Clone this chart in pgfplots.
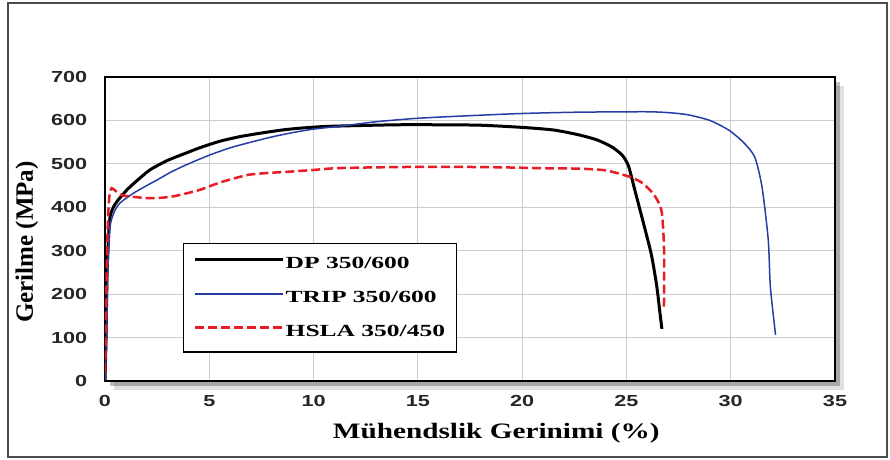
\documentclass[border=0pt]{standalone}
\usepackage{fontspec}
\setmainfont{Liberation Serif}
\newfontfamily\ticksans{Liberation Sans}
\usepackage{pgfplots}
\pgfplotsset{compat=1.18}
\usetikzlibrary{shadows}
\definecolor{tripblue}{RGB}{40,60,165}
\definecolor{hslared}{RGB}{232,28,36}
\definecolor{gridgray}{RGB}{205,205,205}

\begin{document}
\begin{tikzpicture}[x=1pt,y=1pt]
\useasboundingbox (0,0) rectangle (890,459);
\draw[line width=1.5pt, black!70] (8,2) rectangle (887,456);
\begin{axis}[
  at={(105pt,78pt)}, anchor=south west,
  scale only axis, width=730pt, height=304pt,
  xmin=0, xmax=35, ymin=0, ymax=700,
  xtick={0,5,...,35}, ytick={0,100,...,700},
  major tick length=0pt,
  grid=major,
  major grid style={gridgray, line width=1pt},
  axis line style={line width=2.5pt, black},
  axis background/.style={fill=white,
    drop shadow={shadow xshift=9pt, shadow yshift=-9pt, fill=black, opacity=0.12},
    drop shadow={shadow xshift=5pt, shadow yshift=-5pt, fill=black, opacity=0.25}},
  tick label style={font=\ticksans\bfseries\fontsize{16}{16}\selectfont, text=black!85, xscale=1.35, inner sep=0pt},
  /pgf/number format/assume math mode=true,
  xticklabel style={anchor=north, yshift=-14pt},
  yticklabel style={anchor=east, xshift=-13pt},
  xlabel={\scalebox{1.33}[1]{Mühendslik Gerinimi (\%)}},
  ylabel={Gerilme (MPa)},
  xlabel style={at={(axis description cs:0.536,-0.171)}, anchor=center, font=\bfseries\fontsize{22}{22}\selectfont},
  ylabel style={at={(axis description cs:-0.107,0.457)}, anchor=center, font=\bfseries\fontsize{25}{25}\selectfont},
  legend style={at={(axis description cs:0.107,0.454)}, anchor=north west,
    draw=black, line width=1.2pt, fill=white,
    font=\bfseries\fontsize{17}{17}\selectfont,
    inner xsep=10pt, inner ysep=13pt, row sep=19pt,
    nodes={inner sep=1pt}},
  legend image code/.code={\draw[#1] (0pt,4pt) -- (88pt,4pt);},
  legend cell align=left,
]
\addplot[black, line width=3pt, smooth, tension=0.4] coordinates {
(0,0) (0.05,100) (0.1,250) (0.18,340) (0.25,380) (0.4,400) (0.6,415) (1.05,440)
(1.5,460) (2.15,486) (3,508) (4,527) (4.54,537) (5.5,552) (6.5,563) (7.5,571)
(8.5,578) (9.3,582) (10.5,586) (12,588) (14,590) (16,590) (18,589) (20,584)
(21.5,578) (22.7,567) (23.6,555) (24.3,539) (24.8,520) (25.1,495) (25.4,440)
(25.9,348) (26.2,290) (26.45,220) (26.6,160) (26.7,120)};
\addplot[tripblue, line width=1.5pt, smooth, tension=0.4] coordinates {
(0,0) (0.08,100) (0.13,250) (0.24,355) (0.45,390) (0.72,410) (1.35,432) (2,450)
(2.5,463) (3.2,482) (4,500) (5,520) (6,537) (7,550) (8,562) (9,572) (10,580)
(11.5,588) (13,597) (15,605) (17.5,611) (20,616) (22.7,619) (25.9,620) (27,618)
(27.95,613) (29,600) (29.9,578) (30.6,550) (31.15,516) (31.5,447) (31.8,325)
(31.9,217) (32.15,106)};
\addplot[hslared, line width=2.5pt, dash pattern=on 9pt off 4pt, smooth, tension=0.4] coordinates {
(0,20) (0.05,150) (0.1,300) (0.15,380) (0.22,430) (0.32,444) (0.5,438) (0.8,428)
(1.19,425) (2,421) (2.7,422) (3.25,425) (3.9,432) (4.54,440) (5.1,450) (5.64,459)
(6.3,468) (6.9,475) (7.8,479) (8.84,482) (10,486) (11.07,490) (13,492) (15,493)
(17,493) (19,492) (21,490) (22.7,489) (24,485) (25.1,471) (25.7,458) (26.2,436)
(26.5,415) (26.7,387) (26.8,309) (26.8,171)};
\legend{\scalebox{1.5}[1]{DP 350/600}, \scalebox{1.5}[1]{TRIP 350/600}, \scalebox{1.5}[1]{HSLA 350/450}}
\end{axis}
\end{tikzpicture}
\end{document}
